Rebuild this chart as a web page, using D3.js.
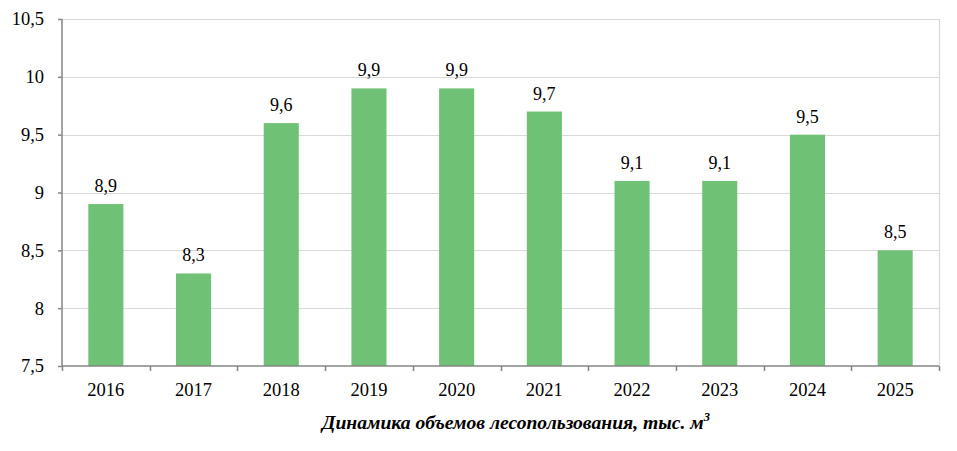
<!DOCTYPE html>
<html>
<head>
<meta charset="utf-8">
<script src="https://cdn.jsdelivr.net/npm/d3@7"></script>
<style>
  body { margin: 0; background: #fff; }
</style>
</head>
<body>
<script>
const years = ["2016", "2017", "2018", "2019", "2020", "2021", "2022", "2023", "2024", "2025"];
const volumes = [8.9, 8.3, 9.6, 9.9, 9.9, 9.7, 9.1, 9.1, 9.5, 8.5];
const yTicks = [7.5, 8, 8.5, 9, 9.5, 10, 10.5];

const width = 957,
    height = 451;

const margin = {top: 19, right: 18, bottom: 85, left: 62};
const innerW = width - margin.left - margin.right,
    innerH = height - margin.top - margin.bottom;

const serif = '"Liberation Serif", "Times New Roman", serif';
const fmt = v => String(v).replace('.', ',');

const svg = d3.select('body')
    .append('svg')
    .attr('width', width)
    .attr('height', height)
    .style('font-family', serif);

const g = svg.append('g')
    .attr('transform', 'translate(' + margin.left + ',' + margin.top + ')');

const x = d3.scaleBand()
    .domain(years)
    .range([0, innerW])
    .paddingInner(0.6)
    .paddingOuter(0.3);

const y = d3.scaleLinear()
    .domain([7.5, 10.5])
    .range([innerH, 0]);

// gridlines
g.append('g')
    .selectAll('line')
    .data(yTicks.slice(1))
    .enter().append('line')
    .attr('x1', 0)
    .attr('x2', innerW)
    .attr('y1', d => Math.round(y(d)) + 0.5)
    .attr('y2', d => Math.round(y(d)) + 0.5)
    .attr('stroke', '#d9d9d9')
    .attr('stroke-width', 1.2);

// right border
g.append('line')
    .attr('x1', innerW + 0.5)
    .attr('x2', innerW + 0.5)
    .attr('y1', 0)
    .attr('y2', innerH)
    .attr('stroke', '#d9d9d9')
    .attr('stroke-width', 1.2);

// bars
g.append('g')
    .selectAll('rect')
    .data(volumes)
    .enter().append('rect')
    .attr('x', (d, i) => x(years[i]))
    .attr('y', d => y(d))
    .attr('width', x.bandwidth())
    .attr('height', d => innerH - y(d))
    .attr('fill', '#6fc175');

// value labels
g.append('g')
    .selectAll('text')
    .data(volumes)
    .enter().append('text')
    .attr('x', (d, i) => x(years[i]) + x.bandwidth() / 2)
    .attr('y', d => y(d) - 12)
    .attr('text-anchor', 'middle')
    .style('font-family', serif)
    .style('font-size', '18px')
    .text(d => fmt(d));

// y axis
const yAxis = g.append('g')
    .call(d3.axisLeft(y).tickValues(yTicks).tickSize(4).tickPadding(14).tickFormat(fmt))
    .attr('font-family', null);
yAxis.select('.domain').attr('stroke', '#868686').attr('stroke-width', 1.5).attr('d', 'M0,' + innerH + 'V0');
yAxis.selectAll('.tick line').attr('stroke', '#868686').attr('stroke-width', 1.5);
yAxis.selectAll('.tick text')
    .style('font-size', '18.5px')
    .style('font-family', serif)
    .attr('fill', '#000');

// x axis
const xAxisG = g.append('g')
    .attr('transform', 'translate(0,' + innerH + ')');
xAxisG.append('line')
    .attr('x1', 0)
    .attr('x2', innerW)
    .attr('stroke', '#868686')
    .attr('stroke-width', 1.5);
xAxisG.selectAll('.sep')
    .data(d3.range(years.length + 1))
    .enter().append('line')
    .attr('class', 'sep')
    .attr('x1', i => Math.round(i * x.step()) + 0.5)
    .attr('x2', i => Math.round(i * x.step()) + 0.5)
    .attr('y1', 0)
    .attr('y2', 5)
    .attr('stroke', '#868686')
    .attr('stroke-width', 1.5);
xAxisG.selectAll('.lbl')
    .data(years)
    .enter().append('text')
    .attr('class', 'lbl')
    .attr('x', d => x(d) + x.bandwidth() / 2)
    .attr('y', 30)
    .attr('text-anchor', 'middle')
    .style('font-family', serif)
    .style('font-size', '18.5px')
    .text(d => d);

// caption
const cap = svg.append('text')
    .attr('x', 516)
    .attr('y', 429)
    .attr('text-anchor', 'middle')
    .style('font-family', serif)
    .style('font-size', '19.6px')
    .style('font-style', 'italic')
    .style('font-weight', 'bold');
cap.append('tspan').text('Динамика объемов лесопользования, тыс. м');
cap.append('tspan')
    .attr('dy', -8)
    .style('font-size', '12.5px')
    .text('3');
</script>
</body>
</html>
